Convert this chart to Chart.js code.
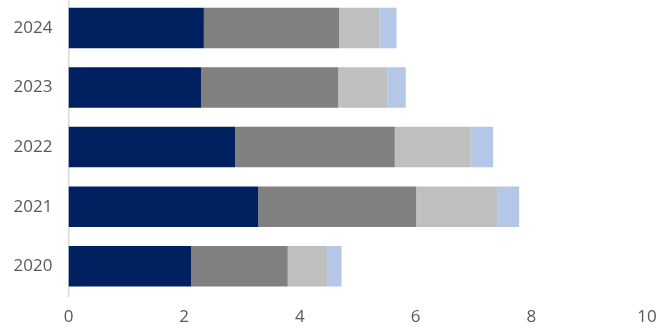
<!DOCTYPE html>
<html>
<head>
<meta charset="utf-8">
<script src="https://cdn.jsdelivr.net/npm/chart.js@4/dist/chart.umd.min.js"></script>
<style>
  html, body { margin: 0; padding: 0; background: #fff; overflow: hidden; }
  #wrap { position: absolute; left: 0; top: -28px; width: 671px; height: 357px; }
</style>
</head>
<body>
<div id="wrap"><canvas id="chart_years"></canvas></div>
<script>
// yearly totals split into four parts
const years = ['2024', '2023', '2022', '2021', '2020']
const partA = [2.34, 2.29, 2.88, 3.28, 2.12]
const partB = [2.34, 2.37, 2.76, 2.73, 1.67]
const partC = [0.69, 0.85, 1.31, 1.41, 0.68]
const partD = [0.30, 0.32, 0.39, 0.37, 0.25]
const xTicks = [0, 2, 4, 6, 8, 10]

const colors = ['#002060', '#808080', '#bfbfbf', '#b4c7e7']
const tickFont = { family: 'Open Sans', size: 17 }

function makeSet(label, data, i) {
    return {
        label: label,
        data: data,
        backgroundColor: colors[i],
        borderWidth: 0,
        barPercentage: 0.68,
        categoryPercentage: 1
    }
}

var config = {
    type: 'bar',
    data: {
        labels: years,
        datasets: [
            makeSet('A', partA, 0),
            makeSet('B', partB, 1),
            makeSet('C', partC, 2),
            makeSet('D', partD, 3)
        ]
    },
    options: {
        indexAxis: 'y',
        responsive: true,
        maintainAspectRatio: false,
        animation: false,
        layout: { padding: { right: 24, top: 0, bottom: 0, left: 0 } },
        plugins: {
            legend: { display: false },
            tooltip: { enabled: false }
        },
        scales: {
            x: {
                stacked: true,
                min: 0,
                max: 10,
                afterBuildTicks: (scale) => { scale.ticks = xTicks.map(v => ({ value: v })) },
                afterFit: (scale) => { scale.height = 33 },
                grid: { display: false, drawTicks: false },
                border: { display: false },
                ticks: {
                    color: '#595959',
                    font: tickFont,
                    padding: 11
                }
            },
            y: {
                stacked: true,
                afterFit: (scale) => { scale.width = 68.5 },
                grid: { display: false, drawTicks: false },
                border: { display: true, color: '#d9d9d9', width: 1.5 },
                ticks: {
                    color: '#595959',
                    font: tickFont,
                    padding: 16
                }
            }
        }
    }
}

var ctx = document.getElementById('chart_years').getContext('2d')
window.yearChart = new Chart(ctx, config)
</script>
</body>
</html>
